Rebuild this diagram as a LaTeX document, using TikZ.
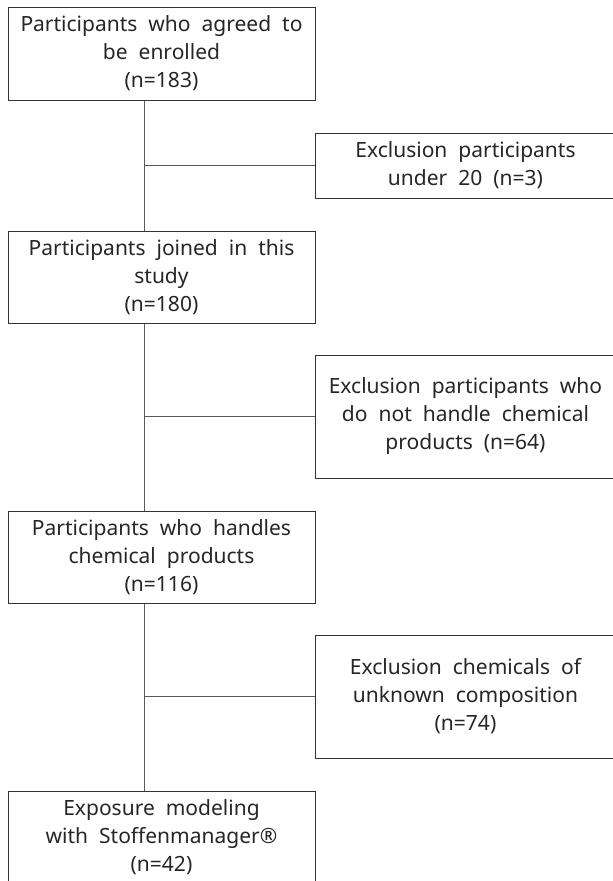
\documentclass[tikz,border=0pt]{standalone}
\usepackage{fontspec}
\setmainfont{Noto Sans}
\newcommand{\boxfont}{\fontsize{21}{28}\selectfont\spaceskip=11pt plus 1pt minus 1pt\relax}
\begin{document}
\begin{tikzpicture}[x=1pt,y=-1pt,
  box/.style={draw=black!80, line width=1pt, minimum width=307pt, inner sep=0pt,
    align=center, text=black!85, font=\boxfont},
  exbox/.style={box, minimum width=301pt},
  conn/.style={draw=black!65, line width=1pt}]
\useasboundingbox (0,0) rectangle (613,881);
\clip (0,0) rectangle (613,881);
\coordinate (sx) at (144,0);
\node[box, minimum height=93pt] (b1) at (161.5,53.5) {Participants who agreed to\\be enrolled\\(n=183)};
\node[exbox, minimum height=65pt] (b2) at (465.5,165.5) {Exclusion participants\\under 20 (n=3)};
\node[box, minimum height=92pt] (b3) at (161.5,277) {Participants joined in this\\study\\(n=180)};
\node[exbox, minimum height=123pt] (b4) at (465.5,416.5) {Exclusion participants who\\do not handle chemical\\products (n=64)};
\node[box, minimum height=92pt] (b5) at (161.5,557) {Participants who handles\\chemical products\\(n=116)};
\node[exbox, minimum height=123pt] (b6) at (465.5,696.5) {Exclusion chemicals of\\unknown composition\\(n=74)};
\node[box, minimum height=92pt] (b7) at (161.5,837) {Exposure modeling\\with Stoffenmanager®\\(n=42)};
\draw[conn] (b1.south -| sx) -- (b3.north -| sx);
\draw[conn] (b3.south -| sx) -- (b5.north -| sx);
\draw[conn] (b5.south -| sx) -- (b7.north -| sx);
\draw[conn] (b2.west -| sx) -- (b2.west);
\draw[conn] (b4.west -| sx) -- (b4.west);
\draw[conn] (b6.west -| sx) -- (b6.west);
\end{tikzpicture}
\end{document}
